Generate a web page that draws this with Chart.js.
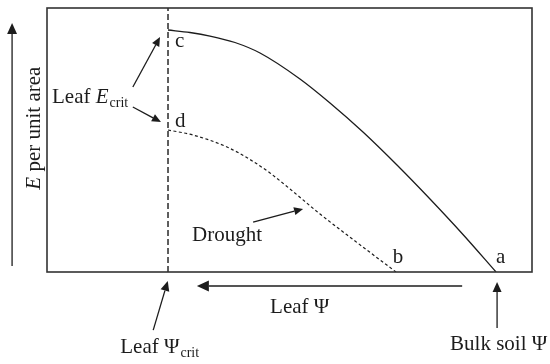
<!DOCTYPE html>
<html lang="en">
  <head>
    <meta charset="UTF-8" />
    <title>Leaf E vs leaf water potential</title>
    <script src="https://cdn.jsdelivr.net/npm/chart.js"></script>
    <style>
      html, body { margin: 0; padding: 0; background: #fff; }
      #wrap { width: 550px; height: 364px; }
    </style>
  </head>
  <body>
    <div id="wrap"><canvas id="myChart"></canvas></div>
    <script>
      // Curve a -> c (well watered), x = leaf water potential (relative), y = E per unit area
      const psiWet = [24.95, 29.48, 33.61, 38.76, 43.92, 52.16, 58.35, 65.15, 72.16, 78.97, 85.77, 92.58];
      const eWet = [91.67, 90.72, 89.39, 86.93, 82.95, 73.11, 64.02, 53.03, 40.53, 27.65, 14.2, 0];

      // Curve b -> d (drought)
      const psiDry = [24.95, 30.1, 37.11, 41.86, 45.98, 50.1, 56.29, 63.51, 71.96];
      const eDry = [53.79, 51.89, 47.35, 42.61, 37.5, 31.44, 21.97, 11.74, 0];

      // critical leaf potential (vertical dashed line)
      const psiCrit = 24.95;
      const critLine = [0, 100];

      const ink = "#1c1c1c";
      const serif = "'Liberation Serif', 'DejaVu Serif', serif";

      function toPoints(xs, ys) {
        return xs.map((x, i) => ({ x: x, y: ys[i] }));
      }

      // Text and arrows of the schematic, in data units
      const labels = [
        { t: "c", x: 26.4, y: 85.2 },
        { t: "d", x: 26.4, y: 54.9 },
        { t: "b", x: 71.3, y: 3.4 },
        { t: "a", x: 92.6, y: 3.4 },
        { t: "Drought", x: 29.9, y: 11.7 },
        { t: "Leaf ", it: "E", sub: "crit", x: 1.03, y: 64.0 },
        { t: "Leaf \u03A8", x: 46.0, y: -15.5 },
        { t: "Leaf \u03A8", sub: "crit", x: 15.1, y: -30.7 },
        { t: "Bulk soil \u03A8", x: 83.1, y: -29.5 },
      ];
      const arrows = [
        { x1: 17.7, y1: 70.1, x2: 23.3, y2: 89.0, head: 9 },
        { x1: 17.7, y1: 62.5, x2: 23.5, y2: 56.8, head: 9 },
        { x1: 42.5, y1: 18.9, x2: 52.8, y2: 23.9, head: 9 },
        { x1: 85.6, y1: -5.3, x2: 30.9, y2: -5.3, head: 12 },
        { x1: 21.9, y1: -22.0, x2: 24.9, y2: -3.4, head: 10 },
        { x1: 92.8, y1: -21.2, x2: 92.8, y2: -3.8, head: 10 },
        { x1: -7.2, y1: 2.3, x2: -7.2, y2: 94.3, head: 11 },
      ];

      function drawArrow(ctx, x1, y1, x2, y2, head) {
        const ang = Math.atan2(y2 - y1, x2 - x1);
        const bx = x2 - head * Math.cos(ang);
        const by = y2 - head * Math.sin(ang);
        ctx.beginPath();
        ctx.moveTo(x1, y1);
        ctx.lineTo(bx, by);
        ctx.stroke();
        const w = head * 0.45;
        ctx.beginPath();
        ctx.moveTo(x2, y2);
        ctx.lineTo(bx + w * Math.sin(ang), by - w * Math.cos(ang));
        ctx.lineTo(bx - w * Math.sin(ang), by + w * Math.cos(ang));
        ctx.closePath();
        ctx.fill();
      }

      const schematic = {
        id: "schematic",
        afterDatasetsDraw(chart) {
          const ctx = chart.ctx;
          const a = chart.chartArea;
          const sx = chart.scales.x;
          const sy = chart.scales.y;
          ctx.save();

          // frame
          ctx.strokeStyle = "#333";
          ctx.lineWidth = 1.6;
          ctx.strokeRect(a.left, a.top, a.right - a.left, a.bottom - a.top);

          // arrows
          ctx.strokeStyle = ink;
          ctx.fillStyle = ink;
          ctx.lineWidth = 1.3;
          arrows.forEach((ar) => {
            drawArrow(
              ctx,
              sx.getPixelForValue(ar.x1),
              sy.getPixelForValue(ar.y1),
              sx.getPixelForValue(ar.x2),
              sy.getPixelForValue(ar.y2),
              ar.head
            );
          });

          // labels
          ctx.textBaseline = "alphabetic";
          ctx.textAlign = "left";
          labels.forEach((l) => {
            let x = sx.getPixelForValue(l.x);
            const y = sy.getPixelForValue(l.y);
            ctx.font = "21px " + serif;
            ctx.fillText(l.t, x, y);
            x += ctx.measureText(l.t).width;
            if (l.it) {
              ctx.font = "italic 21px " + serif;
              ctx.fillText(l.it, x, y);
              x += ctx.measureText(l.it).width;
            }
            if (l.sub) {
              ctx.font = "14px " + serif;
              ctx.fillText(l.sub, x + 1, y + 4);
            }
          });

          // rotated y axis title
          const cx = sx.getPixelForValue(-1.4);
          const cy = sy.getPixelForValue(54.5);
          ctx.translate(cx, cy);
          ctx.rotate(-Math.PI / 2);
          ctx.font = "italic 21px " + serif;
          const wE = ctx.measureText("E").width;
          ctx.font = "21px " + serif;
          const rest = " per unit area";
          const wR = ctx.measureText(rest).width;
          let tx = -(wE + wR) / 2;
          ctx.font = "italic 21px " + serif;
          ctx.fillText("E", tx, 0);
          ctx.font = "21px " + serif;
          ctx.fillText(rest, tx + wE, 0);

          ctx.restore();
        },
      };

      const ctx = document.getElementById("myChart").getContext("2d");
      const myChart = new Chart(ctx, {
        type: "scatter",
        data: {
          datasets: [
            {
              label: "Well watered",
              data: toPoints(psiWet, eWet),
              showLine: true,
              borderColor: ink,
              borderWidth: 1.3,
              pointRadius: 0,
              cubicInterpolationMode: "monotone",
            },
            {
              label: "Drought",
              data: toPoints(psiDry, eDry),
              showLine: true,
              borderColor: ink,
              borderWidth: 1.2,
              borderDash: [3, 2.5],
              pointRadius: 0,
              cubicInterpolationMode: "monotone",
            },
            {
              label: "Leaf Psi crit",
              data: critLine.map((e) => ({ x: psiCrit, y: e })),
              showLine: true,
              borderColor: ink,
              borderWidth: 1.4,
              borderDash: [6, 3],
              pointRadius: 0,
              tension: 0,
            },
          ],
        },
        options: {
          responsive: true,
          maintainAspectRatio: false,
          animation: false,
          layout: { padding: { left: 47, top: 8, right: 18, bottom: 92 } },
          plugins: {
            legend: { display: false },
            tooltip: { enabled: false },
          },
          scales: {
            x: { type: "linear", min: 0, max: 100, display: false },
            y: { type: "linear", min: 0, max: 100, display: false },
          },
        },
        plugins: [schematic],
      });
    </script>
  </body>
</html>
